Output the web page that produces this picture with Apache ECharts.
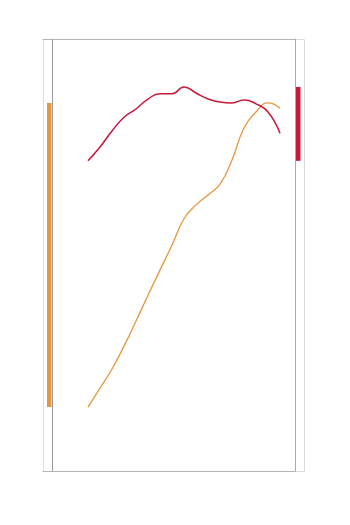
<!DOCTYPE html>
<html><head><meta charset="utf-8">
<script src="https://cdn.jsdelivr.net/npm/echarts@6/dist/echarts.min.js"></script>
<style>html,body{margin:0;padding:0;background:#fff}#c{width:350px;height:525px}</style>
</head><body><div id="c"></div>
<script>
var xs = [0,1,2,3,4,5,6,7,8,9,10,11,12,13,14,15,16];
var orangeVals = [14.8,19.2,23.6,28.9,34.7,40.7,46.5,52.3,58.4,61.6,63.9,66.4,72.0,79.4,83.1,85.2,84.0];
var redVals = [71.8,75.0,78.7,81.9,83.8,86.1,87.3,87.3,88.9,87.5,86.1,85.4,85.2,85.9,85.0,83.1,78.2];
var orangeColor = '#e8963e';
var redColor = '#c9163a';

function pairs(v){ return xs.map(function(x,i){ return [x, v[i]]; }); }
function extent(v){ return [Math.min.apply(null,v), Math.max.apply(null,v)]; }

var chart = echarts.init(document.getElementById('c'), null, {renderer:'canvas'});
function rangeBar(side){
  return function(params, api){
    var lo = api.value(1), hi = api.value(2);
    var p1 = api.coord([xs[0], hi]);
    var p2 = api.coord([xs[0], lo]);
    var cs = params.coordSys;
    var x = side === 'left' ? cs.x + 4 : cs.x + cs.width + 1;
    return {type:'rect', shape:{x:x, y:p1[1], width:4.5, height:p2[1]-p1[1]}, style:{fill: api.visual('color')}};
  };
}
var oe = extent(orangeVals), re = extent(redVals);
chart.setOption({
  animation:false,
  graphic:[{type:'rect', shape:{x:43.5, y:39.5, width:261, height:432}, style:{fill:'none', stroke:'#dcdcdc', lineWidth:1}, z:-1}],
  grid:{left:43, right:55, top:39, bottom:54},
  xAxis:[
    {type:'value', min:-3.75, max:17.25, axisLine:{show:true, onZero:false, lineStyle:{color:'#b4b4b4'}}, axisTick:{show:false}, axisLabel:{show:false}, splitLine:{show:false}},
    {type:'value', position:'top', min:-3.75, max:17.25, axisLine:{show:true, onZero:false, lineStyle:{color:'#b4b4b4'}}, axisTick:{show:false}, axisLabel:{show:false}, splitLine:{show:false}}
  ],
  yAxis:[
    {type:'value', min:0, max:100, position:'left', offset:-9, axisLine:{show:true, onZero:false, lineStyle:{color:'#999'}}, axisTick:{show:false}, axisLabel:{show:false}, splitLine:{show:false}},
    {type:'value', min:0, max:100, position:'right', axisLine:{show:true, onZero:false, lineStyle:{color:'#aaa'}}, axisTick:{show:false}, axisLabel:{show:false}, splitLine:{show:false}}
  ],
  series:[
    {type:'line', data:pairs(orangeVals), yAxisIndex:0, smooth:true, showSymbol:false, lineStyle:{color:orangeColor, width:1.3}, itemStyle:{color:orangeColor}},
    {type:'line', data:pairs(redVals), yAxisIndex:1, smooth:true, showSymbol:false, lineStyle:{color:redColor, width:1.5}, itemStyle:{color:redColor}},
    {type:'custom', yAxisIndex:0, clip:false, itemStyle:{color:orangeColor}, data:[[xs[0], oe[0], oe[1]]], renderItem:rangeBar('left'), encode:{x:0, y:[1,2]}},
    {type:'custom', yAxisIndex:1, clip:false, itemStyle:{color:redColor}, data:[[xs[0], re[0], re[1]]], renderItem:rangeBar('right'), encode:{x:0, y:[1,2]}}
  ]
});
</script></body></html>
